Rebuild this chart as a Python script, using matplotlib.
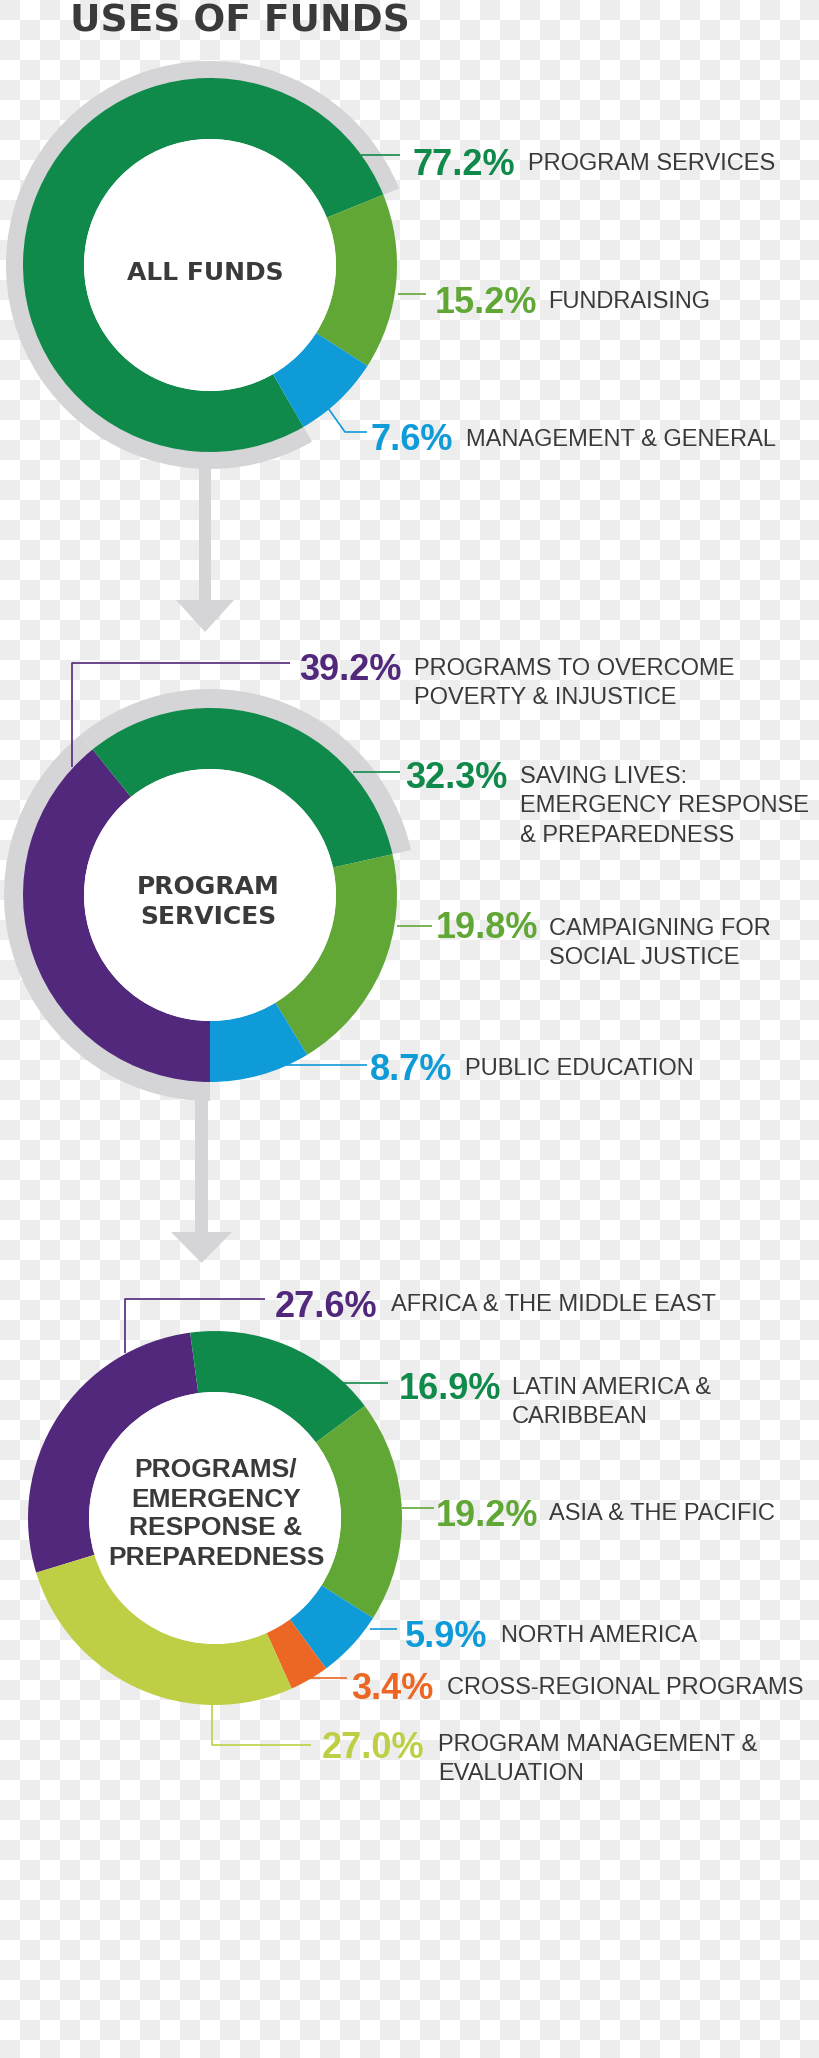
import matplotlib
matplotlib.use("Agg")
import matplotlib.pyplot as plt
from matplotlib.colors import ListedColormap
from matplotlib.patches import Circle, FancyArrow
import numpy as np

# ---- data -------------------------------------------------------------
all_funds_labels = ["PROGRAM SERVICES", "FUNDRAISING", "MANAGEMENT & GENERAL"]
all_funds_values = [77.2, 15.2, 7.6]

program_labels = ["PROGRAMS TO OVERCOME\nPOVERTY & INJUSTICE",
                  "SAVING LIVES:\nEMERGENCY RESPONSE\n& PREPAREDNESS",
                  "CAMPAIGNING FOR\nSOCIAL JUSTICE",
                  "PUBLIC EDUCATION"]
program_values = [39.2, 32.3, 19.8, 8.7]

region_labels = ["AFRICA & THE MIDDLE EAST",
                 "LATIN AMERICA &\nCARIBBEAN",
                 "ASIA & THE PACIFIC",
                 "NORTH AMERICA",
                 "CROSS-REGIONAL PROGRAMS",
                 "PROGRAM MANAGEMENT &\nEVALUATION"]
region_values = [27.6, 16.9, 19.2, 5.9, 3.4, 27.0]

# ---- style ------------------------------------------------------------
W, H = 820, 2058
DARK_GREEN = "#108a4b"
LIGHT_GREEN = "#61a735"
BLUE = "#0f9bd8"
PURPLE = "#52287c"
LIME = "#bfcf45"
ORANGE = "#ec6624"
GRAY = "#d5d5d7"
TEXT = "#3a3a3a"
R_OUT, R_IN = 187, 126

fig = plt.figure(figsize=(W / 100, H / 100), dpi=100)
ax = fig.add_axes([0, 0, 1, 1])

# transparent-style checker background
ny, nx = H // 20 + 1, W // 20 + 1
cells = np.indices((ny, nx)).sum(axis=0) % 2
ax.imshow(cells, cmap=ListedColormap(["#ededed", "#ffffff"]),
          extent=(0, nx * 20, ny * 20, 0), interpolation="nearest", zorder=0)


def donut(center, values, colors, start, highlight=None, hl_radius=None):
    # y axis is flipped, so clockwise on screen = counterclock in data
    if highlight is not None:
        hl_colors = [GRAY if h else "none" for h in highlight]
        ax.pie(values, colors=hl_colors, radius=hl_radius, center=center,
               startangle=-start, counterclock=True,
               wedgeprops=dict(width=40, linewidth=0))
    ax.pie(values, colors=colors, radius=R_OUT, center=center,
           startangle=-start, counterclock=True,
           wedgeprops=dict(width=R_OUT - R_IN, linewidth=0))
    ax.add_patch(Circle(center, R_IN, color="white", lw=0))


def label(value, text, color, pct_x, pct_base, txt_x, txt_base, leader):
    ax.text(pct_x, pct_base, f"{value:.1f}%", color=color, fontsize=26,
            fontweight="bold", family="Liberation Sans", va="baseline",
            ha="left")
    for i, line in enumerate(text.split("\n")):
        ax.text(txt_x, txt_base + i * 29.5, line, color=TEXT, fontsize=17,
                family="Liberation Sans", va="baseline", ha="left")
    xs, ys = zip(*leader)
    ax.plot(xs, ys, color=color, lw=1.2, solid_capstyle="butt", zorder=3)


def center_text(lines, x, bases, family, size):
    for line, b in zip(lines, bases):
        ax.text(x, b, line, color=TEXT, fontsize=size, fontweight="bold",
                family=family, ha="center", va="baseline", zorder=4)


# title
ax.text(70, 31, "USES OF FUNDS", color=TEXT, fontsize=27,
        fontweight="bold", family="DejaVu Sans", va="baseline", ha="left")

# ---- chart 1: all funds ----------------------------------------------
c1 = (210, 265)
c1_colors = [DARK_GREEN, LIGHT_GREEN, BLUE]
ax.add_patch(FancyArrow(205, 460, 0, 172, width=12, head_width=58,
                        head_length=32, length_includes_head=True,
                        color=GRAY, lw=0, zorder=1))
donut(c1, all_funds_values, c1_colors, 300,
      highlight=[True, False, False], hl_radius=204)
center_text(["ALL FUNDS"], 205, [280], "DejaVu Sans", 18)

c1_layout = [
    (413, 175, 528, 170, [(361, 155), (400, 155)]),
    (435, 313, 548, 308, [(398, 294), (426, 294)]),
    (371, 450, 466, 446, [(328, 408), (345, 432), (367, 432)]),
]
for v, t, col, lay in zip(all_funds_values, all_funds_labels, c1_colors,
                          c1_layout):
    label(v, t, col, *lay)

# ---- chart 2: program services ---------------------------------------
c2 = (210, 895)
c2_colors = [PURPLE, DARK_GREEN, LIGHT_GREEN, BLUE]
ax.add_patch(FancyArrow(201.5, 1092, 0, 171, width=13, head_width=61,
                        head_length=31, length_includes_head=True,
                        color=GRAY, lw=0, zorder=1))
donut(c2, program_values, c2_colors, 270,
      highlight=[True, True, False, False], hl_radius=206)
center_text(["PROGRAM", "SERVICES"], 208, [894, 924], "DejaVu Sans", 18)

c2_layout = [
    (299, 680, 414, 675, [(72, 767), (72, 663), (290, 663)]),
    (405, 788, 520, 783, [(353, 772), (400, 772)]),
    (436, 938, 549, 935, [(397, 926), (432, 926)]),
    (370, 1080, 465, 1075, [(283, 1065), (367, 1065)]),
]
for v, t, col, lay in zip(program_values, program_labels, c2_colors,
                          c2_layout):
    label(v, t, col, *lay)

# ---- chart 3: programs / emergency response ---------------------------
c3 = (215, 1518)
c3_colors = [PURPLE, DARK_GREEN, LIGHT_GREEN, BLUE, ORANGE, LIME]
donut(c3, region_values, c3_colors, 197)
center_text(["PROGRAMS/", "EMERGENCY", "RESPONSE &", "PREPAREDNESS"], 216,
            [1477, 1507, 1535, 1565], "Liberation Sans", 19)

c3_layout = [
    (275, 1317, 391, 1311, [(125, 1353), (125, 1299), (265, 1299)]),
    (399, 1399, 512, 1394, [(343, 1383), (388, 1383)]),
    (436, 1526, 549, 1520, [(402, 1508), (434, 1508)]),
    (405, 1647, 501, 1642, [(370, 1629), (397, 1629)]),
    (351, 1699, 447, 1694, [(305, 1678), (347, 1678)]),
    (322, 1758, 438, 1751, [(212, 1705), (212, 1745), (311, 1745)]),
]
for v, t, col, lay in zip(region_values, region_labels, c3_colors,
                          c3_layout):
    label(v, t, col, *lay)

ax.set_xlim(0, W)
ax.set_ylim(H, 0)
ax.set_aspect("equal")
ax.axis("off")

fig.savefig("out.png", dpi=100)
